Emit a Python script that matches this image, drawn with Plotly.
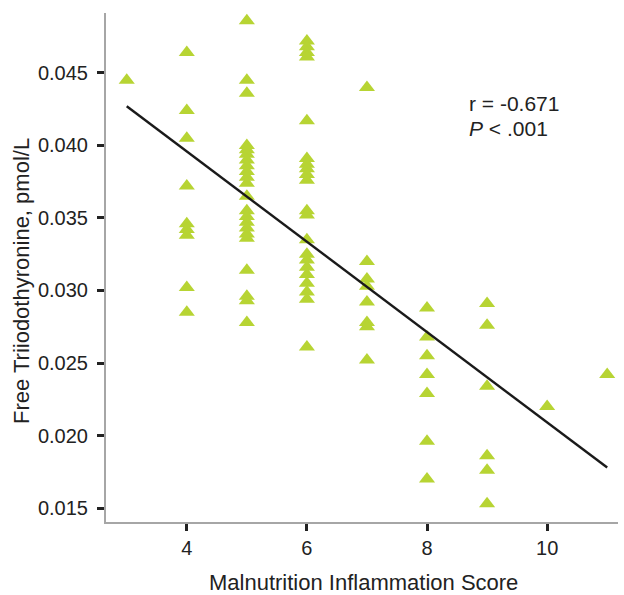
import plotly.graph_objects as go

# ---- data ----
mis_3 = [0.0445]
mis_4 = [0.0464, 0.0424, 0.0405, 0.0372, 0.0346, 0.0342, 0.0338, 0.0302, 0.0285]
mis_5 = [0.0486, 0.0445, 0.0436, 0.0400, 0.0397, 0.0394, 0.0390, 0.0386, 0.0382,
         0.0378, 0.0374, 0.0365, 0.0355, 0.0351, 0.0347, 0.0343, 0.0339, 0.0336,
         0.0314, 0.0296, 0.0293, 0.0278]
mis_6 = [0.0472, 0.0468, 0.0464, 0.0461, 0.0417, 0.0391, 0.0387, 0.0384, 0.0380,
         0.0376, 0.0355, 0.0352, 0.0335, 0.0325, 0.0321, 0.0316, 0.0311, 0.0305,
         0.0299, 0.0294, 0.0261]
mis_7 = [0.0440, 0.0320, 0.0308, 0.0303, 0.0292, 0.0278, 0.0275, 0.0252]
mis_8 = [0.0288, 0.0268, 0.0255, 0.0242, 0.0229, 0.0196, 0.0170]
mis_9 = [0.0291, 0.0276, 0.0234, 0.0186, 0.0176, 0.0153]
mis_10 = [0.0220]
mis_11 = [0.0242]

groups = {3: mis_3, 4: mis_4, 5: mis_5, 6: mis_6, 7: mis_7,
          8: mis_8, 9: mis_9, 10: mis_10, 11: mis_11}

fit_x = [3, 11]
fit_y = [0.0427, 0.0178]

x_ticks = [4, 6, 8, 10]
y_ticks = [0.015, 0.020, 0.025, 0.030, 0.035, 0.040, 0.045]
y_tick_labels = ["0.015", "0.020", "0.025", "0.030", "0.035", "0.040", "0.045"]

stat_r = "r = -0.671"
stat_p = "<i>P</i> < .001"
x_title = "Malnutrition Inflammation Score"
y_title = "Free Triiodothyronine, pmol/L"

xs, ys = [], []
for k, vals in groups.items():
    xs += [k] * len(vals)
    ys += vals

FONT = "Liberation Sans, Arial, sans-serif"

fig = go.Figure()
fig.add_trace(go.Scatter(
    x=xs, y=ys, mode="markers",
    marker=dict(symbol="triangle-up", size=14, color="#b7d433", line=dict(width=0)),
    showlegend=False,
))
fig.add_trace(go.Scatter(
    x=fit_x, y=fit_y, mode="lines",
    line=dict(color="#1a1a1a", width=2.4),
    showlegend=False,
))

fig.update_layout(
    width=624, height=595,
    margin=dict(l=106, r=6, t=13, b=73),
    plot_bgcolor="white", paper_bgcolor="white",
    font=dict(family=FONT, size=20, color="#222"),
    xaxis=dict(
        range=[2.655, 11.18], tickvals=x_ticks,
        showgrid=False, zeroline=False,
        showline=True, linecolor="#a6a6a6", linewidth=2,
        ticks="outside", ticklen=7, tickwidth=2.5, tickcolor="#222",
        tickfont=dict(size=20, family=FONT, color="#222"),
    ),
    yaxis=dict(
        range=[0.01404, 0.04913], tickvals=y_ticks, ticktext=y_tick_labels,
        showgrid=False, zeroline=False,
        showline=True, linecolor="#a6a6a6", linewidth=2,
        ticks="outside", ticklen=7, tickwidth=2.5, tickcolor="#222",
        tickfont=dict(size=20, family=FONT, color="#222"),
        ticklabelstandoff=5,
    ),
    annotations=[
        dict(text=stat_r, x=8.666, y=0.04286, xref="x", yref="y",
             xanchor="left", yanchor="middle", showarrow=False,
             font=dict(size=21, family=FONT, color="#222")),
        dict(text=stat_p, x=8.666, y=0.04120, xref="x", yref="y",
             xanchor="left", yanchor="middle", showarrow=False,
             font=dict(size=21, family=FONT, color="#222")),
        dict(text=x_title, x=0.503, y=-0.1198, xref="paper", yref="paper",
             xanchor="center", yanchor="middle", showarrow=False,
             font=dict(size=22, family=FONT, color="#222")),
        dict(text=y_title, x=-0.164, y=0.4735, xref="paper", yref="paper",
             xanchor="center", yanchor="middle", showarrow=False, textangle=-90,
             font=dict(size=22, family=FONT, color="#222")),
    ],
)

fig.write_html("out.html")
